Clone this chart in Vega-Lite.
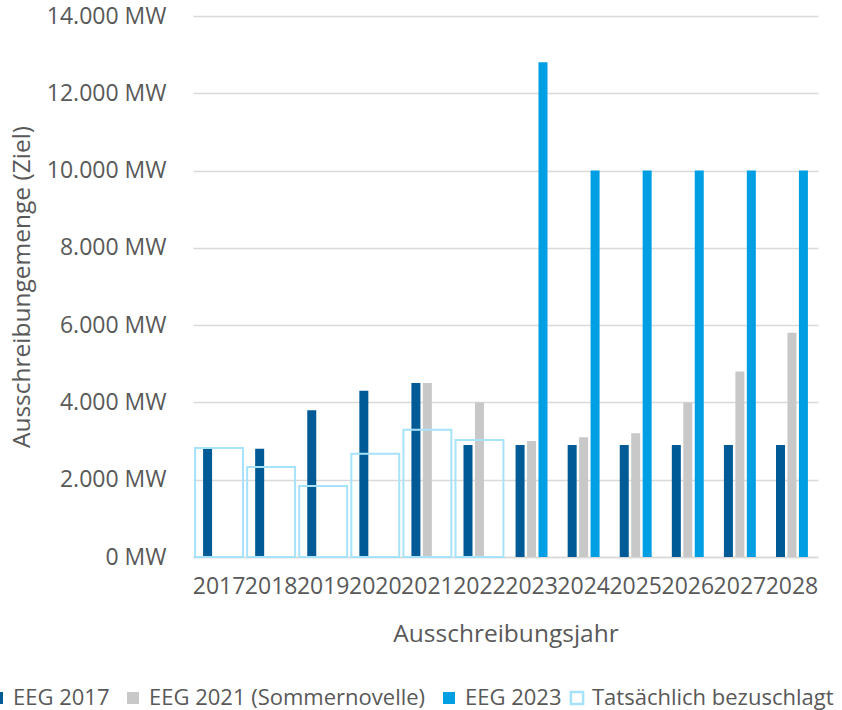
{
  "$schema": "https://vega.github.io/schema/vega-lite/v6.json",
  "width": 625,
  "height": 541,
  "autosize": "none",
  "padding": {"left": 193, "top": 16, "right": 24, "bottom": 153},
  "background": "#ffffff",
  "config": {
    "font": "Open Sans",
    "view": {"stroke": null},
    "axis": {
      "labelFont": "Open Sans",
      "titleFont": "Open Sans",
      "labelColor": "#595959",
      "titleColor": "#595959",
      "labelFontSize": 23,
      "titleFontSize": 24.5,
      "titleFontWeight": "normal",
      "ticks": false
    },
    "legend": {
      "labelFont": "Open Sans",
      "labelColor": "#595959",
      "labelFontSize": 22,
      "labelLimit": 0
    }
  },
  "data": {
    "values": [
      {"year": "2017", "series": "EEG 2017", "value": 2800},
      {"year": "2018", "series": "EEG 2017", "value": 2800},
      {"year": "2019", "series": "EEG 2017", "value": 3800},
      {"year": "2020", "series": "EEG 2017", "value": 4300},
      {"year": "2021", "series": "EEG 2017", "value": 4500},
      {"year": "2022", "series": "EEG 2017", "value": 2900},
      {"year": "2023", "series": "EEG 2017", "value": 2900},
      {"year": "2024", "series": "EEG 2017", "value": 2900},
      {"year": "2025", "series": "EEG 2017", "value": 2900},
      {"year": "2026", "series": "EEG 2017", "value": 2900},
      {"year": "2027", "series": "EEG 2017", "value": 2900},
      {"year": "2028", "series": "EEG 2017", "value": 2900},
      {"year": "2021", "series": "EEG 2021 (Sommernovelle)", "value": 4500},
      {"year": "2022", "series": "EEG 2021 (Sommernovelle)", "value": 4000},
      {"year": "2023", "series": "EEG 2021 (Sommernovelle)", "value": 3000},
      {"year": "2024", "series": "EEG 2021 (Sommernovelle)", "value": 3100},
      {"year": "2025", "series": "EEG 2021 (Sommernovelle)", "value": 3200},
      {"year": "2026", "series": "EEG 2021 (Sommernovelle)", "value": 4000},
      {"year": "2027", "series": "EEG 2021 (Sommernovelle)", "value": 4800},
      {"year": "2028", "series": "EEG 2021 (Sommernovelle)", "value": 5800},
      {"year": "2023", "series": "EEG 2023", "value": 12800},
      {"year": "2024", "series": "EEG 2023", "value": 10000},
      {"year": "2025", "series": "EEG 2023", "value": 10000},
      {"year": "2026", "series": "EEG 2023", "value": 10000},
      {"year": "2027", "series": "EEG 2023", "value": 10000},
      {"year": "2028", "series": "EEG 2023", "value": 10000},
      {"year": "2017", "series": "Tatsächlich bezuschlagt", "value": 2820},
      {"year": "2018", "series": "Tatsächlich bezuschlagt", "value": 2330},
      {"year": "2019", "series": "Tatsächlich bezuschlagt", "value": 1840},
      {"year": "2020", "series": "Tatsächlich bezuschlagt", "value": 2670},
      {"year": "2021", "series": "Tatsächlich bezuschlagt", "value": 3290},
      {"year": "2022", "series": "Tatsächlich bezuschlagt", "value": 3030}
    ]
  },
  "encoding": {
    "x": {
      "field": "year",
      "type": "nominal",
      "sort": null,
      "scale": {"paddingInner": 0, "paddingOuter": 0},
      "axis": {
        "title": "Ausschreibungsjahr",
        "labelAngle": 0,
        "labelPadding": 18,
        "domainColor": "#d9d9d9",
        "domainWidth": 1.5,
        "grid": false,
        "titleX": 312.5,
        "titleY": 77,
        "titleBaseline": "middle"
      }
    },
    "y": {
      "field": "value",
      "type": "quantitative",
      "scale": {"domain": [0, 14000], "nice": false},
      "axis": {
        "title": "Ausschreibungemenge (Ziel)",
        "values": [0, 2000, 4000, 6000, 8000, 10000, 12000, 14000],
        "labelExpr": "replace(format(datum.value, ','), ',', '.') + ' MW'",
        "labelPadding": 27,
        "domain": false,
        "grid": true,
        "gridColor": "#d9d9d9",
        "gridWidth": 1.5,
        "titleX": -171,
        "titleY": 270.5,
        "titleBaseline": "middle",
        "titleAngle": -90
      }
    }
  },
  "layer": [
    {
      "transform": [{"filter": "datum.series !== 'Tatsächlich bezuschlagt'"}],
      "mark": {"type": "bar", "opacity": 1},
      "encoding": {
        "xOffset": {
          "field": "series",
          "type": "nominal",
          "scale": {
            "domain": ["EEG 2017", "EEG 2021 (Sommernovelle)", "EEG 2023"],
            "paddingInner": 0.214,
            "paddingOuter": 0.88
          }
        },
        "color": {
          "field": "series",
          "type": "nominal",
          "scale": {
            "domain": ["EEG 2017", "EEG 2021 (Sommernovelle)", "EEG 2023"],
            "range": ["#005a96", "#c8c8c8", "#009fe3"]
          },
          "legend": {
            "title": null,
            "orient": "none",
            "direction": "horizontal",
            "columns": 3,
            "legendX": -207,
            "legendY": 671,
            "padding": 0,
            "symbolType": "square",
            "symbolSize": 144,
            "symbolStrokeWidth": 0,
            "labelOffset": 5,
            "columnPadding": 12
          }
        }
      }
    },
    {
      "transform": [{"filter": "datum.series === 'Tatsächlich bezuschlagt'"}],
      "mark": {"type": "bar", "filled": false, "strokeWidth": 2, "width": {"band": 0.92}, "opacity": 1},
      "encoding": {
        "stroke": {
          "field": "series",
          "type": "nominal",
          "scale": {
            "domain": ["Tatsächlich bezuschlagt"],
            "range": ["#a6e3fa"]
          },
          "legend": {
            "title": null,
            "orient": "none",
            "direction": "horizontal",
            "legendX": 373,
            "legendY": 671,
            "padding": 0,
            "symbolType": "square",
            "symbolSize": 150,
            "symbolStrokeWidth": 2.5,
            "symbolFillColor": "#ffffff",
            "labelOffset": 4
          }
        }
      }
    }
  ]
}
